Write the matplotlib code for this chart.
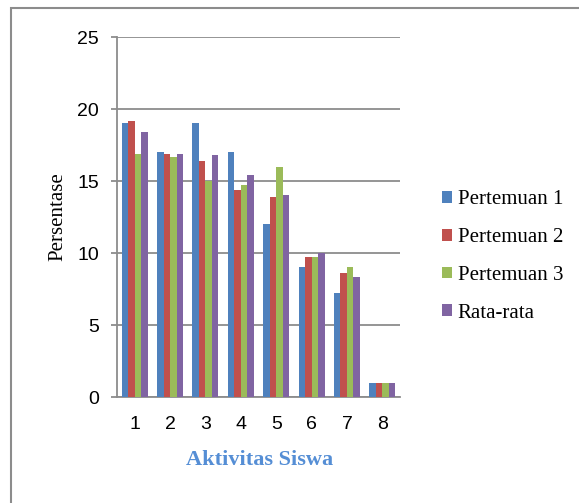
"""
Grouped bar chart: persentase aktivitas siswa per pertemuan.
"""

import matplotlib
matplotlib.use("Agg")
import matplotlib.pyplot as plt
import numpy as np
from matplotlib.patches import Rectangle


ACTIVITIES = [1, 2, 3, 4, 5, 6, 7, 8]

PERTEMUAN_1 = [19.0, 17.0, 19.0, 17.0, 12.0, 9.0, 7.2, 1.0]
PERTEMUAN_2 = [19.2, 16.9, 16.4, 14.4, 13.9, 9.7, 8.6, 1.0]
PERTEMUAN_3 = [16.9, 16.7, 15.0, 14.7, 16.0, 9.7, 9.0, 1.0]
RATA_RATA = [18.4, 16.9, 16.8, 15.4, 14.0, 10.0, 8.3, 1.0]

SERIES_NAMES = ["Pertemuan 1", "Pertemuan 2", "Pertemuan 3", "Rata-rata"]
COLORS = ["#4F81BD", "#C0504D", "#9BBB59", "#8064A2"]

GRID_GRAY = "#8c8c8c"


def main() -> None:
    fig = plt.figure(figsize=(5.79, 5.03), dpi=100)
    ax = fig.add_axes([0.2021, 0.2107, 0.4888, 0.7157])

    series = [PERTEMUAN_1, PERTEMUAN_2, PERTEMUAN_3, RATA_RATA]
    x = np.arange(len(ACTIVITIES)) + 1
    bar_w = 0.184
    offsets = (np.arange(len(series)) - 1.5) * bar_w

    bars = []
    for values, off, color, name in zip(series, offsets, COLORS, SERIES_NAMES):
        b = ax.bar(x + off, values, width=bar_w, color=color, label=name,
                   zorder=3, linewidth=0)
        bars.append(b)

    ax.set_xlim(0.5, 8.5)
    ax.set_ylim(0, 25)
    ax.set_yticks(range(0, 26, 5))
    ax.set_xticks(x)
    ax.set_xticklabels([str(a) for a in ACTIVITIES])

    ax.grid(axis="y", color=GRID_GRAY, linewidth=1.3, zorder=0)
    for side in ["top", "right"]:
        ax.spines[side].set_visible(False)
    for side in ["left", "bottom"]:
        ax.spines[side].set_color(GRID_GRAY)
        ax.spines[side].set_linewidth(1.3)

    ax.tick_params(axis="y", length=4.3, width=1.3, color=GRID_GRAY, pad=8.5,
                   labelsize=14)
    ax.tick_params(axis="x", length=0, pad=14, labelsize=14)
    for lbl in ax.get_xticklabels() + ax.get_yticklabels():
        lbl.set_fontfamily("Liberation Sans")

    fig.text(58 / 579, 1 - 217 / 503, "Persentase", rotation=90,
             ha="center", va="center", fontsize=15, family="Liberation Serif")
    fig.text(260 / 579, 1 - 460 / 503, "Aktivitas Siswa", ha="center",
             va="center", fontsize=16, fontweight="bold",
             family="Liberation Serif", color="#558ED5")

    fig.legend(handles=bars, labels=SERIES_NAMES, loc="center left",
               bbox_to_anchor=(442 / 579, 1 - 256.5 / 503), frameon=False,
               prop={"family": "Liberation Serif", "size": 15},
               handlelength=0.5, handleheight=0.5, handletextpad=0.25,
               labelspacing=0.9, borderpad=0, borderaxespad=0)

    # outer chart frame, open on the right and bottom
    fig.patches.append(Rectangle((11 / 579, -0.1), 1.2, 1 - 8 / 503 + 0.1,
                                 transform=fig.transFigure, fill=False,
                                 edgecolor="#8c8c8c", linewidth=1.5))

    fig.savefig("out.png", dpi=100)


if __name__ == "__main__":
    main()
